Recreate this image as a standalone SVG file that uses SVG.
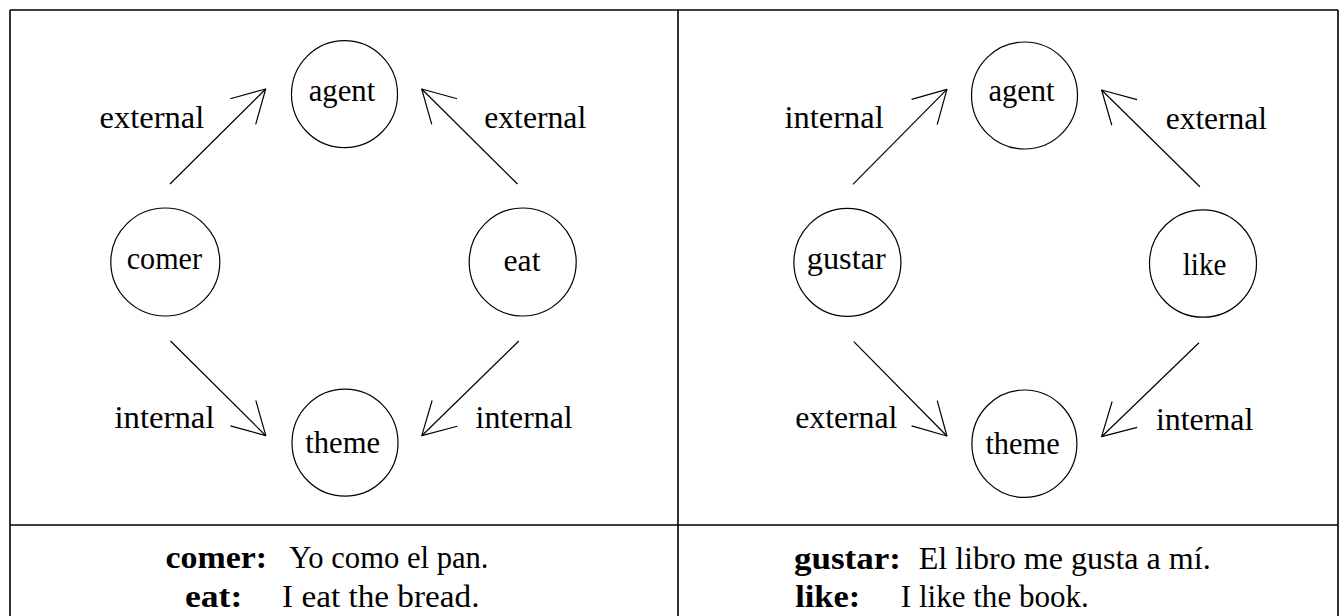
<svg xmlns="http://www.w3.org/2000/svg" width="1340" height="616" viewBox="0 0 1340 616">
<style>
  .frame { stroke: #000; fill: none; stroke-width: 1.6; }
  .node { fill: none; stroke: #000; stroke-width: 1.2; }
  .conn { stroke: #000; stroke-width: 1.2; fill: none; }
  text { font-family: "Liberation Serif", "Times New Roman", serif; font-size: 31px; fill: #000; }
  .b { font-weight: bold; }
</style>
<defs>
  <marker id="v" markerUnits="userSpaceOnUse" orient="auto" markerWidth="80" markerHeight="80" refX="0" refY="0" viewBox="-40 -40 80 80" overflow="visible">
    <path d="M-32,-18 L0,0 L-32,18" fill="none" stroke="#000" stroke-width="1.2" stroke-linejoin="round"/>
  </marker>
</defs>
<g id="frame">
  <line class="frame" x1="10" y1="10" x2="1338" y2="10"/>
  <line class="frame" x1="10" y1="10" x2="10" y2="616"/>
  <line class="frame" x1="1338" y1="10" x2="1338" y2="616"/>
  <line class="frame" x1="678" y1="10" x2="678" y2="616"/>
  <line class="frame" x1="10" y1="525" x2="1338" y2="525" stroke-width="2.2"/>
</g>
<g id="connectors">
  <line class="conn" x1="170" y1="184" x2="265.7" y2="89" marker-end="url(#v)"/>
  <line class="conn" x1="517.5" y1="184" x2="421.7" y2="89" marker-end="url(#v)"/>
  <line class="conn" x1="170.5" y1="341" x2="265.8" y2="435.7" marker-end="url(#v)"/>
  <line class="conn" x1="518.8" y1="341" x2="421.8" y2="435.7" marker-end="url(#v)"/>
  <line class="conn" x1="852.9" y1="184.3" x2="946.9" y2="89.3" marker-end="url(#v)"/>
  <line class="conn" x1="1199.9" y1="186.7" x2="1101.6" y2="90" marker-end="url(#v)"/>
  <line class="conn" x1="853.8" y1="341.7" x2="946.9" y2="436" marker-end="url(#v)"/>
  <line class="conn" x1="1199" y1="342.7" x2="1101.6" y2="436.7" marker-end="url(#v)"/>
</g>
<g id="edge-labels">
  <text x="99.6" y="128.3" textLength="104.7" lengthAdjust="spacingAndGlyphs">external</text>
  <text x="484.2" y="128.3" textLength="102" lengthAdjust="spacingAndGlyphs">external</text>
  <text x="114.5" y="427.7" textLength="100" lengthAdjust="spacingAndGlyphs">internal</text>
  <text x="475.6" y="428" textLength="97" lengthAdjust="spacingAndGlyphs">internal</text>
  <text x="784.5" y="128.3" textLength="99.2" lengthAdjust="spacingAndGlyphs">internal</text>
  <text x="1165.7" y="129" textLength="101.3" lengthAdjust="spacingAndGlyphs">external</text>
  <text x="795.2" y="428.3" textLength="102.2" lengthAdjust="spacingAndGlyphs">external</text>
  <text x="1155.9" y="430" textLength="97.4" lengthAdjust="spacingAndGlyphs">internal</text>
</g>
<g id="agent-left">
  <ellipse class="node" cx="344.5" cy="94.2" rx="53" ry="53.5"/>
  <text x="308.7" y="101" textLength="66.5" lengthAdjust="spacingAndGlyphs">agent</text>
</g>
<g id="comer">
  <ellipse class="node" cx="165.3" cy="262" rx="54.5" ry="54"/>
  <text x="126.7" y="269.3" textLength="75.3" lengthAdjust="spacingAndGlyphs">comer</text>
</g>
<g id="eat">
  <ellipse class="node" cx="522.7" cy="262" rx="53.5" ry="54"/>
  <text x="503.5" y="271" textLength="37" lengthAdjust="spacingAndGlyphs">eat</text>
</g>
<g id="theme-left">
  <ellipse class="node" cx="345" cy="442.7" rx="53" ry="53.5"/>
  <text x="305.3" y="452.7" textLength="74.7" lengthAdjust="spacingAndGlyphs">theme</text>
</g>
<g id="agent-right">
  <ellipse class="node" cx="1024.5" cy="95.5" rx="53" ry="53.5"/>
  <text x="988.4" y="101" textLength="66.2" lengthAdjust="spacingAndGlyphs">agent</text>
</g>
<g id="gustar">
  <ellipse class="node" cx="847.4" cy="262.3" rx="53.5" ry="54"/>
  <text x="806.8" y="269" textLength="79" lengthAdjust="spacingAndGlyphs">gustar</text>
</g>
<g id="like">
  <ellipse class="node" cx="1203" cy="263.5" rx="53.5" ry="53.7"/>
  <text x="1182.8" y="275" textLength="43.6" lengthAdjust="spacingAndGlyphs">like</text>
</g>
<g id="theme-right">
  <ellipse class="node" cx="1024.4" cy="443.7" rx="52.5" ry="53.7"/>
  <text x="985.4" y="454" textLength="74.3" lengthAdjust="spacingAndGlyphs">theme</text>
</g>
<g id="examples-left">
  <text class="b" x="165.4" y="568.3" textLength="101.7" lengthAdjust="spacingAndGlyphs">comer:</text>
  <text x="289.3" y="568.3" textLength="199.2" lengthAdjust="spacingAndGlyphs">Yo como el pan.</text>
  <text class="b" x="185" y="607" textLength="57.3" lengthAdjust="spacingAndGlyphs">eat:</text>
  <text x="282" y="607" textLength="197.5" lengthAdjust="spacingAndGlyphs">I eat the bread.</text>
</g>
<g id="examples-right">
  <text class="b" x="793.9" y="569.3" textLength="107" lengthAdjust="spacingAndGlyphs">gustar:</text>
  <text x="918.7" y="569.3" textLength="292" lengthAdjust="spacingAndGlyphs">El libro me gusta a mí.</text>
  <text class="b" x="795.2" y="607.3" textLength="65" lengthAdjust="spacingAndGlyphs">like:</text>
  <text x="900.8" y="607.3" textLength="188" lengthAdjust="spacingAndGlyphs">I like the book.</text>
</g>
</svg>
